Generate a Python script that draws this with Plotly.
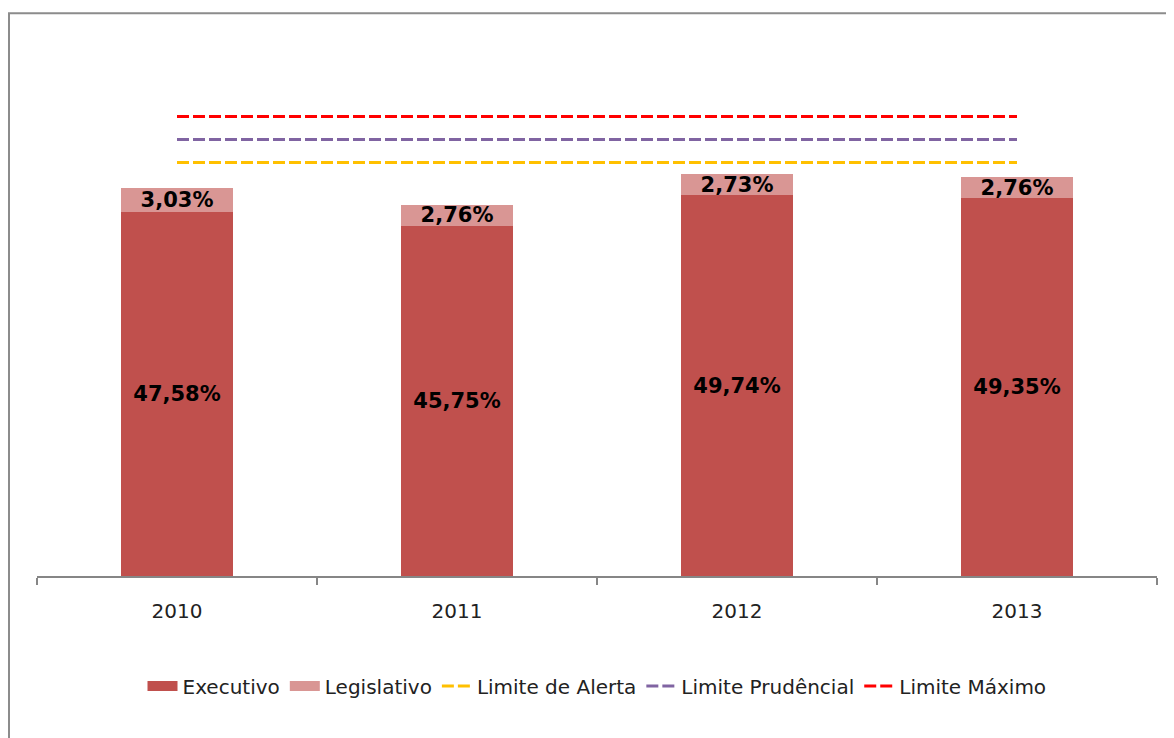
import plotly.graph_objects as go

years = ["2010", "2011", "2012", "2013"]
executivo = [47.58, 45.75, 49.74, 49.35]
legislativo = [3.03, 2.76, 2.73, 2.76]
limite_alerta = [54, 54, 54, 54]
limite_prudencial = [57, 57, 57, 57]
limite_maximo = [60, 60, 60, 60]

FONT = "DejaVu Sans"
C_EXEC = "#C0504D"
C_LEG = "#D99694"

fig = go.Figure()
fig.add_trace(go.Bar(
    x=years, y=executivo, name="Executivo", width=0.4, showlegend=False,
    marker=dict(color=C_EXEC, line=dict(width=0)),
    texttemplate="%{y:.2f}%", textposition="inside", insidetextanchor="middle",
    constraintext="none",
    textfont=dict(family=FONT, size=21, color="black", weight="bold"),
))
fig.add_trace(go.Bar(
    x=years, y=legislativo, name="Legislativo", width=0.4, showlegend=False,
    marker=dict(color=C_LEG, line=dict(width=0)),
    texttemplate="%{y:.2f}%", textposition="inside", insidetextanchor="middle",
    constraintext="none", cliponaxis=False,
    textfont=dict(family=FONT, size=21, color="black", weight="bold"),
))
# legend entries for bars (wide swatches like the original)
for name, col in [("Executivo", C_EXEC), ("Legislativo", C_LEG)]:
    fig.add_trace(go.Scatter(
        x=[None], y=[None], name=name, mode="lines",
        line=dict(color=col, width=13), hoverinfo="skip",
    ))
for name, vals, col in [("Limite de Alerta", limite_alerta, "#FFC000"),
                        ("Limite Prudêncial", limite_prudencial, "#8064A2"),
                        ("Limite Máximo", limite_maximo, "#FF0000")]:
    fig.add_trace(go.Scatter(
        x=years, y=vals, name=name, mode="lines",
        line=dict(color=col, width=3, dash="12px,4px"),
    ))

fig.add_shape(type="rect", xref="paper", yref="paper",
              x0=-0.025, x1=1.2, y0=-0.6, y1=1.05,
              line=dict(color="#8C8C8C", width=2), fillcolor="rgba(0,0,0,0)")

fig.update_layout(
    width=1166, height=730,
    margin=dict(l=29, r=17, t=32, b=162),
    barmode="stack",
    separators=",.",
    paper_bgcolor="white", plot_bgcolor="white",
    font=dict(family=FONT, size=17, color="#222222"),
    showlegend=True,
    legend=dict(orientation="h", x=0.5, xanchor="center", y=-0.205, yanchor="middle",
                font=dict(family=FONT, size=20, color="#222222"),
                traceorder="normal"),
    xaxis=dict(type="category", showline=True, linecolor="#868686", linewidth=1.5,
               ticks="outside", tickson="boundaries", ticklen=7, tickcolor="#868686",
               tickwidth=1.5, showgrid=False, ticklabelstandoff=16,
               tickfont=dict(family=FONT, size=20, color="#222222")),
    yaxis=dict(range=[0, 70], visible=False, showgrid=False, zeroline=False),
)

fig.write_html("out.html")
